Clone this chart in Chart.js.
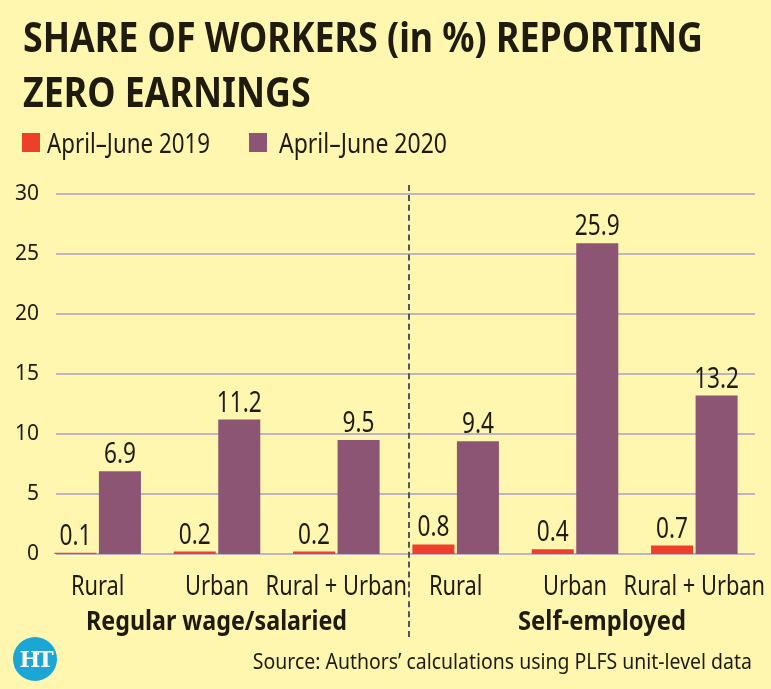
<!DOCTYPE html>
<html>
<head>
<meta charset="utf-8">
<script src="https://cdn.jsdelivr.net/npm/chart.js@4.4.1/dist/chart.umd.min.js"></script>
<style>
  html, body { margin: 0; padding: 0; background: #fff7b0; }
  #wrap { position: relative; width: 771px; height: 689px; overflow: hidden; background: #fff7b0;
          font-family: 'Noto Sans', sans-serif; color: #1f1b0e; }
  #chart { position: absolute; left: 0; top: 0; }
  .fit { position: absolute; white-space: nowrap; transform-origin: left top; }
  .title { left: 23px; top: 8px; font-weight: 700; font-size: 42px; line-height: 55px; }
  .legtxt { top: 122px; font-size: 28px; line-height: 40px; }
  .box { position: absolute; top: 133px; width: 18px; height: 19px; }
  .group { top: 600px; font-size: 27px; line-height: 40px; font-weight: 700; }
  .divider { position: absolute; left: 408px; top: 185px; height: 452px; width: 0;
             border-left: 2px dashed #555; }
  .source { top: 644px; font-size: 22px; line-height: 32px; transform-origin: right top; }
  .logo { position: absolute; left: 13px; top: 637px; width: 44px; height: 44px; border-radius: 50%;
          background: #1ba6d6; color: #fff; font-family: 'DejaVu Serif', serif; font-weight: 700;
          font-size: 22px; line-height: 44px; text-align: center; letter-spacing: -3px; }
</style>
</head>
<body>
<div id="wrap">
  <canvas id="chart" width="771" height="689"></canvas>
  <div class="fit title" data-w="680"><span id="t1">SHARE OF WORKERS (in %) REPORTING</span><br>ZERO EARNINGS</div>
  <span class="box" style="left:22px;background:#ee3f2a"></span>
  <div class="fit legtxt" style="left:47px" data-w="163">April–June 2019</div>
  <span class="box" style="left:249px;background:#8c5574"></span>
  <div class="fit legtxt" style="left:279px" data-w="168">April–June 2020</div>
  <div class="divider"></div>
  <div class="fit group" style="left:86px" data-w="261">Regular wage/salaried</div>
  <div class="fit group" style="left:518px" data-w="168">Self-employed</div>
  <div class="logo">HT</div>
  <div class="fit source" style="right:19px" data-w="499">Source: Authors’ calculations using PLFS unit-level data</div>
</div>
<script>
// data
const categories = ['Rural', 'Urban', 'Rural + Urban', 'Rural', 'Urban', 'Rural + Urban'];
const seriesNames = ['April–June 2019', 'April–June 2020'];
const values2019 = [0.1, 0.2, 0.2, 0.8, 0.4, 0.7];
const values2020 = [6.9, 11.2, 9.5, 9.4, 25.9, 13.2];
const yTicks = [0, 5, 10, 15, 20, 25, 30];

const textColor = '#1f1b0e';
const canvasFamily = "'Noto Sans', sans-serif";
const squeeze = 0.78; // the print font is a condensed face, no such face installed here

// squeeze the html texts to the widths of the print version
document.querySelectorAll('.fit').forEach(function (el) {
    const target = parseFloat(el.dataset.w);
    const inner = el.querySelector('#t1') || el;
    const w = inner.getBoundingClientRect().width;
    el.style.transform = 'scaleX(' + (target / w) + ')';
});

function condensedText(ctx, text, x, y) {
    ctx.save();
    ctx.translate(x, y);
    ctx.scale(squeeze, 1);
    ctx.fillText(text, 0, 0);
    ctx.restore();
}

// horizontal grid lines, starting a bit right of the axis like the print version
const gridPlugin = {
    id: 'gridLines',
    beforeDatasetsDraw(chart) {
        const ctx = chart.ctx;
        const y = chart.scales.y;
        const area = chart.chartArea;
        ctx.save();
        ctx.strokeStyle = '#bdb5c6';
        ctx.lineWidth = 2;
        yTicks.forEach(function (v) {
            const py = Math.round(y.getPixelForValue(v));
            ctx.beginPath();
            ctx.moveTo(area.left + 18, py);
            ctx.lineTo(area.right + 1, py);
            ctx.stroke();
        });
        ctx.restore();
    }
};

// value labels above the bars and the category labels under the axis
const textPlugin = {
    id: 'condensedText',
    afterDatasetsDraw(chart) {
        const ctx = chart.ctx;
        const x = chart.scales.x;
        ctx.save();
        ctx.fillStyle = textColor;
        ctx.textAlign = 'center';
        ctx.textBaseline = 'alphabetic';
        ctx.font = '29px ' + canvasFamily;
        chart.data.datasets.forEach(function (ds, i) {
            chart.getDatasetMeta(i).data.forEach(function (bar, j) {
                condensedText(ctx, ds.data[j].toFixed(1), bar.x, bar.y - 8);
            });
        });
        ctx.font = '28px ' + canvasFamily;
        categories.forEach(function (c, i) {
            condensedText(ctx, c, x.getPixelForTick(i), chart.chartArea.bottom + 41);
        });
        ctx.restore();
    }
};

new Chart(document.getElementById('chart'), {
    type: 'bar',
    data: {
        labels: categories,
        datasets: [
            { label: seriesNames[0], data: values2019, backgroundColor: '#ee3f2a' },
            { label: seriesNames[1], data: values2020, backgroundColor: '#8c5574' }
        ]
    },
    options: {
        responsive: false,
        animation: false,
        categoryPercentage: 0.746,
        barPercentage: 0.944,
        layout: { padding: { top: 194, right: 17, left: 0, bottom: 85 } },
        plugins: { legend: { display: false }, tooltip: { enabled: false } },
        scales: {
            x: {
                grid: { display: false, drawTicks: false },
                border: { display: false },
                ticks: { display: false },
                afterFit(scale) { scale.height = 50; }
            },
            y: {
                min: 0,
                max: 30,
                afterBuildTicks(scale) { scale.ticks = yTicks.map(v => ({ value: v })); },
                grid: { display: false, drawTicks: false },
                border: { display: false },
                ticks: {
                    color: textColor,
                    padding: -1,
                    font: { family: canvasFamily, size: 21 }
                },
                afterFit(scale) { scale.width = 38; }
            }
        }
    },
    plugins: [gridPlugin, textPlugin]
});
</script>
</body>
</html>
